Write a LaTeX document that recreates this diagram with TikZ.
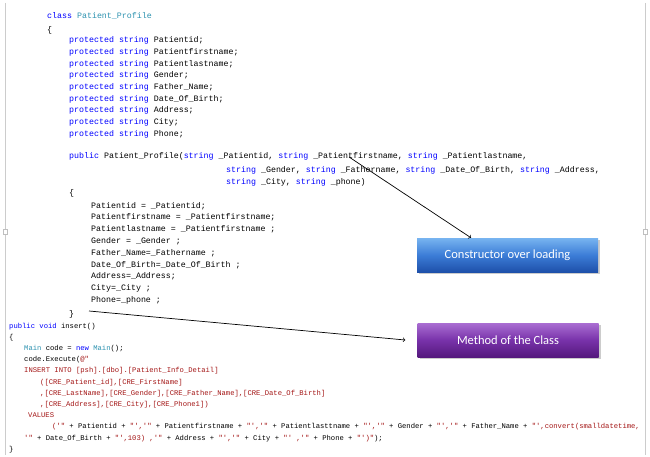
\documentclass[tikz,border=0pt]{standalone}
\usepackage{fontspec}
\setmonofont{Liberation Mono}
\setsansfont{Carlito}
\usetikzlibrary{shadows}
\definecolor{kw}{RGB}{0,0,255}
\definecolor{ty}{RGB}{43,145,175}
\definecolor{st}{RGB}{163,21,21}
\definecolor{b1}{RGB}{120,180,240}
\definecolor{b2}{RGB}{60,125,215}
\definecolor{b3}{RGB}{30,80,170}
\definecolor{v1}{RGB}{170,110,210}
\definecolor{v2}{RGB}{120,50,170}
\definecolor{v3}{RGB}{85,25,125}
\newcommand{\K}[1]{\textcolor{kw}{#1}}
\newcommand{\T}[1]{\textcolor{ty}{#1}}
\newcommand{\Sx}[1]{\textcolor{st}{#1}}
\begin{document}
\begin{tikzpicture}[x=1pt,y=-1pt,
 up/.style={anchor=base west,inner sep=0pt,font=\ttfamily\fontsize{8.3}{9}\selectfont},
 lo/.style={anchor=base west,inner sep=0pt,font=\ttfamily\fontsize{7.2}{8}\selectfont},
 box/.style={minimum width=181pt,minimum height=34pt,text=white,font=\sffamily\fontsize{12.5}{14}\selectfont,drop shadow={shadow xshift=2pt,shadow yshift=-2pt,opacity=.4}},
 arr/.style={->,>=to,line width=0.7pt}]
\useasboundingbox (0,0) rectangle (650,457);
\draw[gray!40] (5,3) -- (5,455) (645,3)--(645,455);
\draw[gray!50,fill=white] (3,229) rectangle (7,234) (643,229) rectangle (647,234);
\node[up] (l1) at (47,19) {\K{class} \T{Patient\_Profile}};
\node[up] (l2) at (47,33) {\{};
\foreach \t [count=\i] in {Patientid;,Patientfirstname;,Patientlastname;,Gender;,Father\_Name;,Date\_Of\_Birth;,Address;,City;,Phone;}
 \node[up] (p\i) at (69,{43+(\i-1)*11.65}) {\K{protected} \K{string} \t};
\node[up] (c1) at (69,159) {\K{public} Patient\_Profile(\K{string} \_Patientid, \K{string} \_Patientfirstname, \K{string} \_Patientlastname,};
\node[up] (c2) at (226,172) {\K{string} \_Gender, \K{string} \_Fathername, \K{string} \_Date\_Of\_Birth, \K{string} \_Address,};
\node[up] (c3) at (226,185) {\K{string} \_City, \K{string} \_phone)};
\node[up] (c4) at (69,196) {\{};
\foreach \t [count=\i] in {Patientid = \_Patientid;,Patientfirstname = \_Patientfirstname;,Patientlastname = \_Patientfirstname ;,Gender = \_Gender ;,Father\_Name=\_Fathername ;,Date\_Of\_Birth=\_Date\_Of\_Birth ;,Address=\_Address;,City=\_City ;,Phone=\_phone ;}
 \node[up] (b\i) at (91,{208+(\i-1)*11.8}) {\t};
\node[up] (c5) at (69,316) {\}};
\node[lo] (m1) at (9,328) {\K{public} \K{void} insert()};
\node[lo] (m2) at (9,339.2) {\{};
\node[lo] (m3) at (24,350.4) {\T{Main} code = \K{new} \T{Main}();};
\node[lo] (m4) at (24,361.6) {code.Execute(\Sx{@"}};
\node[lo] (m5) at (24,372.8) {\Sx{INSERT INTO [psh].[dbo].[Patient\_Info\_Detail]}};
\node[lo] (m6) at (40,384) {\Sx{([CRE\_Patient\_id],[CRE\_FirstName]}};
\node[lo] (m7) at (40,395.2) {\Sx{,[CRE\_LastName],[CRE\_Gender],[CRE\_Father\_Name],[CRE\_Date\_Of\_Birth]}};
\node[lo] (m8) at (40,406.4) {\Sx{,[CRE\_Address],[CRE\_City],[CRE\_Phone1])}};
\node[lo] (m9) at (28,417.6) {\Sx{VALUES}};
\node[lo] (m10) at (52,428.8) {\Sx{('"} + Patientid + \Sx{"','"} + Patientfirstname + \Sx{"','"} + Patientlasttname + \Sx{"','"} + Gender + \Sx{"','"} + Father\_Name + \Sx{"',convert(smalldatetime,}};
\node[lo] (m11) at (24,440) {\Sx{'"} + Date\_Of\_Birth + \Sx{"',103) ,'"} + Address + \Sx{"','"} + City + \Sx{"' ,'"} + Phone + \Sx{"')"});};
\node[lo] (m12) at (9,451.2) {\}};
\node[box,top color=b1,bottom color=b3,middle color=b2] (cb) at (507.5,255) {Constructor over loading};
\node[box,top color=v1,bottom color=v3,middle color=v2] (mb) at (508,340) {Method of the Class};
\coordinate (s1) at (349,157);
\coordinate (s2) at (89,311);
\draw[arr] (s1) -- (cb.north west -| 471,0);
\draw[arr] (s2) -- ([xshift=-12pt]mb.west);
\end{tikzpicture}
\end{document}
